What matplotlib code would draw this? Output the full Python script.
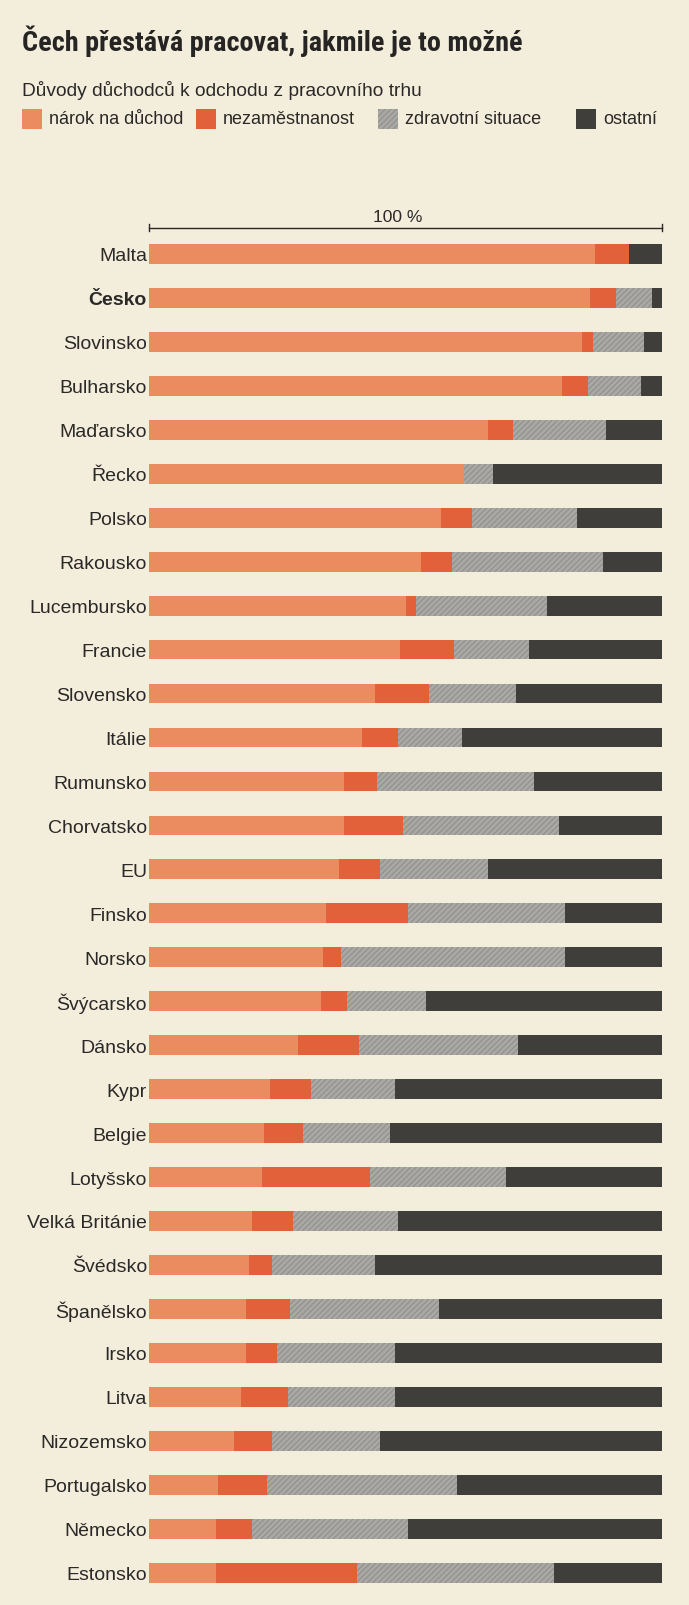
import matplotlib
matplotlib.use('Agg')
import matplotlib.pyplot as plt
from matplotlib import font_manager as fm
from matplotlib.patches import Rectangle
import numpy as np

# ---------------- data ----------------
countries = ['Malta', 'Česko', 'Slovinsko', 'Bulharsko', 'Maďarsko', 'Řecko', 'Polsko',
             'Rakousko', 'Lucembursko', 'Francie', 'Slovensko', 'Itálie', 'Rumunsko',
             'Chorvatsko', 'EU', 'Finsko', 'Norsko', 'Švýcarsko', 'Dánsko', 'Kypr',
             'Belgie', 'Lotyšsko', 'Velká Británie', 'Švédsko', 'Španělsko', 'Irsko',
             'Litva', 'Nizozemsko', 'Portugalsko', 'Německo', 'Estonsko']
pension = [87, 86, 84.5, 80.5, 66, 61.5, 57, 53, 50, 49, 44, 41.5, 38, 38, 37, 34.5, 34,
           33.5, 29, 23.5, 22.5, 22, 20, 19.5, 19, 19, 18, 16.5, 13.5, 13, 13]
unemployment = [6.5, 5, 2, 5, 5, 0, 6, 6, 2, 10.5, 10.5, 7, 6.5, 11.5, 8, 16, 3.5,
                5, 12, 8, 7.5, 21, 8, 4.5, 8.5, 6, 9, 7.5, 9.5, 7, 27.5]
health = [0, 7, 10, 10.5, 18, 5.5, 20.5, 29.5, 25.5, 14.5, 17, 12.5, 30.5, 30.5, 21, 30.5,
          43.5, 15.5, 31, 16.5, 17, 26.5, 20.5, 20, 29, 23, 21, 21, 37, 30.5, 38.5]
other = [6.5, 2, 3.5, 4, 11, 33, 16.5, 11.5, 22.5, 26, 28.5, 39, 25, 20, 34, 19, 19,
         46, 28, 52, 53, 30.5, 51.5, 56, 43.5, 52, 52, 55, 40, 49.5, 21]
legend_labels = ['nárok na důchod', 'nezaměstnanost', 'zdravotní situace', 'ostatní']
title_text = 'Čech přestává pracovat, jakmile je to možné'
subtitle_text = 'Důvody důchodců k odchodu z pracovního trhu'
scale_label = '100 %'
highlight = 'Česko'

# ---------------- style ----------------
BG = '#f3eddc'
C_PENSION = '#eb8c60'
C_UNEMP = '#e2603a'
C_HEALTH = '#aaa8a4'
C_HEALTH_H = '#8e8c89'
C_OTHER = '#403e3b'
TXT = '#2a2927'
colors = [C_PENSION, C_UNEMP, C_HEALTH, C_OTHER]

names = {f.name for f in fm.fontManager.ttflist}
body_font = 'Liberation Sans' if 'Liberation Sans' in names else 'DejaVu Sans'
title_font, title_stretch = body_font, 'normal'
for cand in ['Roboto Condensed', 'Liberation Sans Narrow', 'Open Sans Condensed']:
    if cand in names:
        title_font = cand
        break
else:
    if any(f.name == 'DejaVu Sans' and str(f.stretch) == 'condensed' for f in fm.fontManager.ttflist):
        title_font, title_stretch = 'DejaVu Sans', 'condensed'

plt.rcParams['font.family'] = [body_font, 'DejaVu Sans']
plt.rcParams['hatch.linewidth'] = 0.7

W, H, DPI = 689, 1606, 100
fig = plt.figure(figsize=(W / DPI, H / DPI), dpi=DPI, facecolor=BG)

def fx(px):
    return px / W

def fy(py):
    return 1 - py / H

n = len(countries)
row_top_px, row_bot_px = 233.0, 1595.6
x0_px, x1_px = 149.0, 662.0
ax = fig.add_axes([fx(x0_px), fy(row_bot_px), fx(x1_px - x0_px), (row_bot_px - row_top_px) / H])
ax.set_facecolor(BG)
ax.set_xlim(0, 100)
ax.set_ylim(n - 0.5, -0.5)
for s in ax.spines.values():
    s.set_visible(False)

y = np.arange(n)
series = [np.array(pension), np.array(unemployment), np.array(health), np.array(other)]
left = np.zeros(n)
bar_h = 0.45
for i, (vals, col) in enumerate(zip(series, colors)):
    if i == 2:
        ax.barh(y, vals, left=left, height=bar_h, color=col, edgecolor=C_HEALTH_H,
                hatch='//////', linewidth=0)
    else:
        ax.barh(y, vals, left=left, height=bar_h, color=col, linewidth=0)
    left = left + vals

ax.set_yticks(y)
ax.set_yticklabels(countries, fontsize=14, color=TXT)
ax.tick_params(axis='y', length=0, pad=1.5)
ax.set_xticks([])
for lab in ax.get_yticklabels():
    if lab.get_text() == highlight:
        lab.set_fontweight('bold')

# 100 % scale line
row_px = (row_bot_px - row_top_px) / n
y_line = -0.5 - (233 - 228.5) / row_px
ax.plot([0, 100], [y_line, y_line], color=TXT, lw=1.0, clip_on=False)
for xv in (0, 100):
    ax.plot([xv, xv], [y_line - 0.07, y_line + 0.07], color=TXT, lw=1.0, clip_on=False)
ax.text(48.5, y_line - 3.5 / row_px, scale_label, ha='center', va='bottom', fontsize=12.5, color=TXT)

# title
t = fig.text(fx(22), fy(41), title_text, fontsize=24, fontweight='bold', family=title_font,
             fontstretch=title_stretch, color='#262523', ha='left', va='center')
fig.canvas.draw()
bb = t.get_window_extent()
target_w = 502
t.set_fontsize(24 * target_w / bb.width)

fig.text(fx(22), fy(90), subtitle_text, fontsize=13.8, color=TXT, ha='left', va='center')

# legend
sq_x = [22, 196, 378, 576]
for xs, col, lab, i in zip(sq_x, colors, legend_labels, range(4)):
    kw = dict(facecolor=col, linewidth=0, transform=fig.transFigure, figure=fig)
    if i == 2:
        kw.update(edgecolor=C_HEALTH_H, hatch='//////')
    r = Rectangle((fx(xs), fy(130)), 20 / W, 20 / H, **kw)
    fig.patches.append(r)
    fig.text(fx(xs + 27), fy(120), lab, fontsize=13, color=TXT, ha='left', va='center')

fig.savefig('out.png', dpi=DPI, facecolor=BG)
